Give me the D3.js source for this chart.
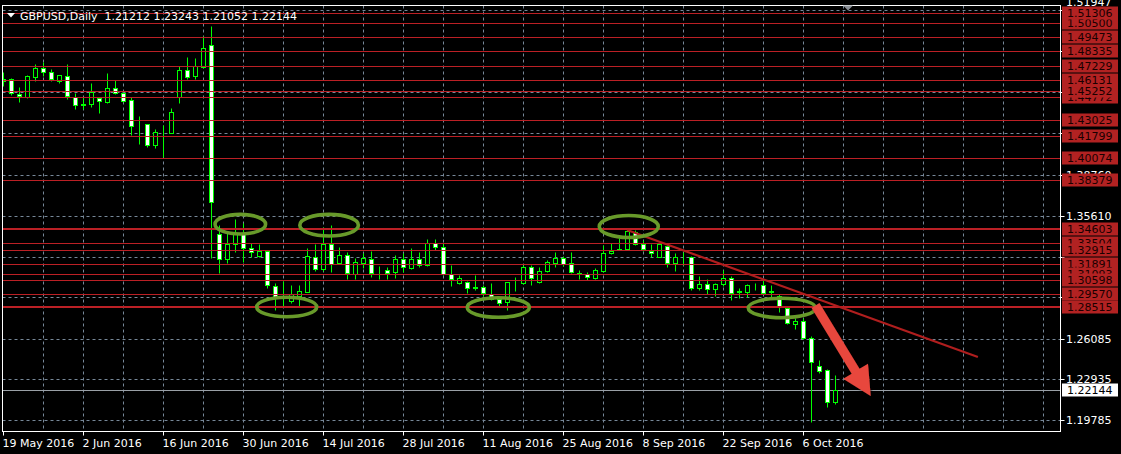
<!DOCTYPE html>
<html><head><meta charset="utf-8">
<script src="https://cdn.jsdelivr.net/npm/d3@7"></script>
<style>
html,body{margin:0;padding:0;background:#000;}
svg{display:block;}
text{font-family:"DejaVu Sans",sans-serif;font-size:11px;}
</style></head><body>
<svg id="c" width="1121" height="454"></svg>
<script>
// ---------------- data ----------------
const symbolTitle = "GBPUSD,Daily";
const lastOHLC = [1.21212, 1.23243, 1.21052, 1.22144];
const startDate = "2016-05-19";

const opens = [1.4602,1.4618,1.4504,1.4483,1.4638,1.4703,1.4672,1.4607,1.4647,1.4483,
1.4424,1.4424,1.4470,1.4444,1.4548,1.4509,1.4457,1.4269,1.4269,1.4111,
1.4207,1.4202,1.4478,1.4687,1.4645,1.4715,1.4883,1.3417,1.3223,1.3340,
1.3425,1.3309,1.3249,1.3290,1.3017,1.2916,1.2900,1.2941,1.2972,1.3239,
1.3146,1.3340,1.3192,1.3257,1.3109,1.3197,1.3223,1.3140,1.3140,1.3127,
1.3223,1.3158,1.3223,1.3179,1.3352,1.3321,1.3106,1.3042,1.3047,1.2999,
1.3006,1.2955,1.2913,1.2890,1.3047,1.3042,1.3166,1.3050,1.3133,1.3197,
1.3231,1.3192,1.3115,1.3107,1.3076,1.3135,1.3270,1.3301,1.3301,1.3437,
1.3342,1.3290,1.3243,1.3326,1.3192,1.3243,1.3239,1.2999,1.3030,1.2991,
1.3030,1.3076,1.2974,1.2972,1.3019,1.3024,1.2974,1.2939,1.2844,1.2725,
1.2745,1.2611,1.2397,1.2366,1.21212];
const highs = [1.4676,1.4624,1.4556,1.4653,1.4736,1.4752,1.4697,1.4651,1.4736,1.4511,
1.4483,1.4591,1.4480,1.4669,1.4612,1.4521,1.4478,1.4333,1.4271,1.4230,
1.4264,1.4395,1.4721,1.4790,1.4783,1.4953,1.5030,1.3489,1.3432,1.3535,
1.3507,1.3347,1.3340,1.3290,1.3037,1.3055,1.3024,1.3024,1.3309,1.3342,
1.3476,1.3489,1.3321,1.3282,1.3231,1.3274,1.3288,1.3171,1.3166,1.3257,
1.3270,1.3309,1.3282,1.3378,1.3378,1.3352,1.3179,1.3102,1.3058,1.3102,
1.3024,1.3042,1.2932,1.3050,1.3089,1.3179,1.3179,1.3166,1.3218,1.3277,
1.3249,1.3282,1.3140,1.3127,1.3158,1.3334,1.3352,1.3386,1.3450,1.3450,
1.3373,1.3342,1.3347,1.3334,1.3270,1.3282,1.3249,1.3092,1.3068,1.3037,
1.3140,1.3094,1.2999,1.3032,1.3042,1.3063,1.3024,1.2955,1.2852,1.2766,
1.2766,1.2629,1.2443,1.2374,1.23243];
const lows = [1.4566,1.4494,1.4442,1.4475,1.4607,1.4643,1.4607,1.4591,1.4465,1.4390,
1.4388,1.4405,1.4359,1.4436,1.4501,1.4444,1.4186,1.4116,1.4096,1.4088,
1.4016,1.4198,1.4436,1.4620,1.4620,1.4707,1.3233,1.3120,1.3192,1.3282,
1.3205,1.3243,1.3243,1.2999,1.2831,1.2862,1.2883,1.2862,1.2968,1.3135,
1.3135,1.3127,1.3187,1.3071,1.3068,1.3158,1.3089,1.3068,1.3068,1.3076,
1.3127,1.3146,1.3166,1.3174,1.3295,1.3105,1.3017,1.3032,1.2965,1.2986,
1.2939,1.2908,1.2862,1.2831,1.2980,1.3032,1.3024,1.3037,1.3127,1.3166,
1.3174,1.3120,1.3068,1.3063,1.3068,1.3127,1.3262,1.3295,1.3295,1.3334,
1.3290,1.3239,1.3239,1.3166,1.3135,1.3179,1.2986,1.2986,1.2955,1.2941,
1.3019,1.2908,1.2921,1.2929,1.2986,1.2955,1.2934,1.2817,1.2720,1.2683,
1.2606,1.1965,1.2345,1.2082,1.21052];
const closes = [1.4618,1.4509,1.4490,1.4641,1.4703,1.4672,1.4622,1.4649,1.4486,1.4415,
1.4421,1.4517,1.4447,1.4548,1.4509,1.4452,1.4258,1.4271,1.4111,1.4207,
1.4209,1.4362,1.4687,1.4638,1.4721,1.4862,1.3667,1.3223,1.3340,1.3425,
1.3309,1.3278,1.3288,1.3022,1.2934,1.2912,1.2952,1.2975,1.3249,1.3146,
1.3340,1.3187,1.3257,1.3115,1.3200,1.3231,1.3115,1.3138,1.3120,1.3223,
1.3161,1.3223,1.3179,1.3347,1.3321,1.3109,1.3067,1.3076,1.3003,1.3009,
1.2960,1.2918,1.2883,1.3045,1.3045,1.3166,1.3076,1.3135,1.3200,1.3231,
1.3187,1.3127,1.3113,1.3084,1.3140,1.3270,1.3288,1.3299,1.3443,1.3342,
1.3301,1.3270,1.3342,1.3192,1.3243,1.3241,1.2999,1.3032,1.2991,1.3032,
1.3076,1.2965,1.2970,1.3024,1.3017,1.2965,1.2970,1.2852,1.2728,1.2745,
1.2611,1.2430,1.2360,1.2120,1.22144];

const xTickLabels = ["19 May 2016","2 Jun 2016","16 Jun 2016","30 Jun 2016","14 Jul 2016",
  "28 Jul 2016","11 Aug 2016","25 Aug 2016","8 Sep 2016","22 Sep 2016","6 Oct 2016"];
const gridPrices = [1.19785,1.22935,1.26085,1.29335,1.32435,1.35610,1.38760,1.41995,1.45190,1.48330,1.51520];
const axisLabelPrices = [1.38760,1.35610,1.26085,1.22935,1.19785];
const topLabelPrice = 1.51947;
// horizontal lines, in the order they were placed
const hLevels = [1.38379,1.40074,1.41799,1.43025,1.44772,1.45252,1.46131,1.47229,1.48335,1.49473,1.50500,1.51306,
                 1.34603,1.33504,1.32915,1.31891,1.31093,1.30598,1.29570,1.28515];
const boldLevels = [1.34603,1.28515];
// annotations in (bar index, price) coordinates
const ellipseBars   = [29.6, 40.7, 35.4, 61.85, 78.16, 97.31];
const ellipsePrices = [1.34952, 1.34874, 1.28538, 1.28500, 1.34774, 1.28461];
const ellipseHalfBars   = [3.16, 3.66, 3.75, 3.88, 3.69, 4.21];
const ellipseHalfPrices = [0.00759, 0.00837, 0.00751, 0.00759, 0.00852, 0.00751];
const trendBars = [77.94, 121.8];
const trendPrices = [1.34502, 1.24665];
const arrowBars = [101.5, 108.4];
const arrowPrices = [1.28655, 1.21644];

// ---------------- scales ----------------
const W = 1121, H = 454;
const plot = {left: 2.5, right: 1060.5, top: 5.5, bottom: 431.5};
const svg = d3.select("#c");
const x = d3.scaleLinear().domain([0, 131]).range([3.5, 3.5 + 8 * 131]);
const y = d3.scaleLinear().domain([1.18933, 1.51931]).range([431, 5]);
const py = p => Math.round(y(p)) + 0.5;

const parseISO = d3.timeParse("%Y-%m-%d");
const dates = [];
for (let d = parseISO(startDate); dates.length < opens.length; d = d3.timeDay.offset(d, 1)) {
  const wd = d.getDay();
  if (wd !== 0 && wd !== 6) dates.push(d);
}
const parseLbl = d3.timeParse("%d %b %Y");
const tickIdx = xTickLabels.map(s => { const t = +parseLbl(s); return dates.findIndex(d => +d === t); });

const bars = opens.map((o, i) => ({i, date: dates[i], o, h: highs[i], l: lows[i], c: closes[i]}));

svg.append("rect").attr("width", W).attr("height", H).attr("fill", "#000");

const defs = svg.append("defs");
defs.append("clipPath").attr("id", "plotclip").append("rect")
  .attr("x", plot.left + 0.5).attr("y", plot.top + 0.5)
  .attr("width", plot.right - plot.left - 1).attr("height", plot.bottom - plot.top - 1);
const sh = defs.append("filter").attr("id", "shadow").attr("x", "-20%").attr("y", "-20%").attr("width", "140%").attr("height", "140%");
sh.append("feDropShadow").attr("dx", 1).attr("dy", 1).attr("stdDeviation", 1.3)
  .attr("flood-color", "#000").attr("flood-opacity", 0.8);
const sh2 = defs.append("filter").attr("id", "soft").attr("x", "-20%").attr("y", "-40%").attr("width", "140%").attr("height", "180%");
sh2.append("feGaussianBlur").attr("stdDeviation", 0.5);

const gPlot = svg.append("g").attr("clip-path", "url(#plotclip)");

// grid
const gridColor = "#778899";
gPlot.append("g").selectAll("line").data(gridPrices).join("line")
  .attr("x1", plot.left).attr("x2", plot.right)
  .attr("y1", d => py(d)).attr("y2", d => py(d))
  .attr("stroke", gridColor).attr("stroke-dasharray", "3,3");
const vGrid = d3.range(5, 131, 5);
gPlot.append("g").selectAll("line").data(vGrid).join("line")
  .attr("x1", d => x(d)).attr("x2", d => x(d))
  .attr("y1", plot.top).attr("y2", plot.bottom)
  .attr("stroke", gridColor).attr("stroke-dasharray", "3,3");

// bid line
gPlot.append("line").attr("x1", plot.left).attr("x2", plot.right)
  .attr("y1", py(lastOHLC[3])).attr("y2", py(lastOHLC[3]))
  .attr("stroke", "#9aa0a6");

// candles
const gC = gPlot.append("g");
gC.selectAll("line").data(bars).join("line")
  .attr("x1", d => x(d.i)).attr("x2", d => x(d.i))
  .attr("y1", d => py(d.h)).attr("y2", d => py(d.l))
  .attr("stroke", "#00ff00");
gC.selectAll("rect").data(bars).join("rect")
  .attr("x", d => x(d.i) - 2).attr("width", 4)
  .attr("y", d => py(Math.max(d.o, d.c)))
  .attr("height", d => Math.max(0, py(Math.min(d.o, d.c)) - py(Math.max(d.o, d.c))))
  .attr("fill", d => d.c >= d.o ? "#000" : "#fff")
  .attr("stroke", "#00ff00");

// horizontal lines
gPlot.append("g").selectAll("line").data(hLevels).join("line")
  .attr("x1", plot.left).attr("x2", plot.right)
  .attr("y1", d => boldLevels.includes(d) ? Math.round(y(d)) : py(d))
  .attr("y2", d => boldLevels.includes(d) ? Math.round(y(d)) : py(d))
  .attr("stroke", "#bb2025").attr("stroke-width", d => boldLevels.includes(d) ? 2 : 1);

// trend line
gPlot.append("line")
  .attr("x1", x(trendBars[0])).attr("y1", y(trendPrices[0]))
  .attr("x2", x(trendBars[1])).attr("y2", y(trendPrices[1]))
  .attr("stroke", "#b01e1e").attr("stroke-width", 2.2);

// ellipses
gPlot.append("g").selectAll("ellipse").data(ellipseBars).join("ellipse")
  .attr("cx", (d, i) => x(d)).attr("cy", (d, i) => y(ellipsePrices[i]))
  .attr("rx", (d, i) => x(d + ellipseHalfBars[i]) - x(d))
  .attr("ry", (d, i) => y(ellipsePrices[i] - ellipseHalfPrices[i]) - y(ellipsePrices[i]))
  .attr("fill", "none").attr("stroke", "#689a2b").attr("stroke-width", 3.6)
  .attr("filter", "url(#soft)");

// arrow
(function () {
  const sx = x(arrowBars[0]), sy = y(arrowPrices[0]);
  const tx = x(arrowBars[1]), ty = y(arrowPrices[1]);
  const len = Math.hypot(tx - sx, ty - sy);
  const ux = (tx - sx) / len, uy = (ty - sy) / len;
  const nx = -uy, ny = ux;
  const w = 4.6, hw = 14.5, hl = 29;
  const bx = tx - ux * hl, by = ty - uy * hl;
  const pts = [
    [sx + nx * w, sy + ny * w], [bx + nx * w, by + ny * w], [bx + nx * hw, by + ny * hw],
    [tx, ty], [bx - nx * hw, by - ny * hw], [bx - nx * w, by - ny * w], [sx - nx * w, sy - ny * w]];
  gPlot.append("polygon").attr("points", pts.map(p => p.join(",")).join(" "))
    .attr("fill", "#e8473d").attr("filter", "url(#shadow)");
})();

// frame
svg.append("rect").attr("x", plot.left).attr("y", plot.top)
  .attr("width", plot.right - plot.left).attr("height", plot.bottom - plot.top)
  .attr("fill", "none").attr("stroke", "#fff");

// header
svg.append("path").attr("d", "M7,13 L15,13 L11,17.5 Z").attr("fill", "#fff");
svg.append("text").attr("x", 20).attr("y", 20).attr("fill", "#fff")
  .attr("xml:space", "preserve")
  .text(symbolTitle + "  " + lastOHLC.map(d3.format(".5f")).join(" "));
svg.append("path").attr("d", "M843,5.5 L853,5.5 L848,10.5 Z").attr("fill", "#8a8f96");

// x axis
const gx = svg.append("g");
gx.selectAll("line").data(tickIdx).join("line")
  .attr("x1", d => x(d)).attr("x2", d => x(d)).attr("y1", plot.bottom).attr("y2", plot.bottom + 4)
  .attr("stroke", "#fff");
gx.selectAll("text").data(xTickLabels).join("text")
  .attr("x", (d, i) => x(tickIdx[i]) - 1).attr("y", 447).attr("fill", "#fff").text(d => d);

// y axis labels
const gy = svg.append("g");
gy.selectAll("line").data(gridPrices).join("line")
  .attr("x1", plot.right).attr("x2", plot.right + 4).attr("y1", d => py(d)).attr("y2", d => py(d))
  .attr("stroke", "#fff");
gy.selectAll("text").data(axisLabelPrices).join("text")
  .attr("x", 1066).attr("y", d => y(d) + 4).attr("fill", "#fff").text(d3.format(".5f"));
// top-of-scale label (sits at the upper edge, mostly hidden)
gy.append("text").attr("x", 1066).attr("y", y(topLabelPrice) + 1.5).attr("fill", "#fff")
  .text(d3.format(".5f")(topLabelPrice));

// price labels of horizontal lines
const gl = svg.append("g");
hLevels.forEach(p => {
  const cy = y(p);
  gl.append("rect").attr("x", 1062).attr("y", Math.round(cy) - 6.5).attr("width", 56).attr("height", 13)
    .attr("fill", "#b22222");
  gl.append("text").attr("x", 1067).attr("y", Math.round(cy) + 4).attr("fill", "#1a0000")
    .text(d3.format(".5f")(p));
});
// current price label
const cyb = y(lastOHLC[3]);
gl.append("rect").attr("x", 1062).attr("y", Math.round(cyb) - 6.5).attr("width", 56).attr("height", 13).attr("fill", "#fff");
gl.append("text").attr("x", 1067).attr("y", Math.round(cyb) + 4).attr("fill", "#000").text(d3.format(".5f")(lastOHLC[3]));
</script>
</body></html>
